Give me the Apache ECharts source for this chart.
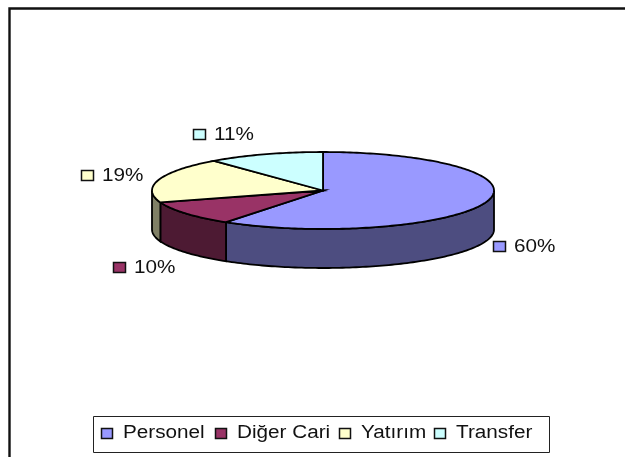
<!DOCTYPE html>
<html>
<head>
<meta charset="utf-8">
<style>
  html, body { margin: 0; padding: 0; background: #fff; }
  #chart { width: 625px; height: 457px; }
</style>
</head>
<body>
<div id="chart"></div>
<script src="https://cdn.jsdelivr.net/npm/echarts@6/dist/echarts.min.js"></script>
<script>
const categories = ['Personel', 'Diğer Cari', 'Yatırım', 'Transfer']
const shares = [59.6, 10.4, 19, 11]

// look of the slices, same order as categories
const topColors = ['#9999FF', '#993366', '#FFFFCC', '#CCFFFF']
const sideColors = ['#4D4D80', '#4D1A33', '#808066', '#668080']
const labelKeys = [[493, 241], [113, 262], [81, 170], [193, 129]]
const legendKeys = [101, 215, 339, 434]
const textStretch = 1.15

const cx = 323, cy = 190.5, rx = 171, ry = 38.5, depth = 39
const total = shares.reduce((a, b) => a + b, 0)

// clockwise angle from 12 o'clock -> point on the ellipse
function pt(a, dy) {
  return [cx + rx * Math.sin(a), cy - ry * Math.cos(a) + (dy || 0)]
}

function arcPoints(a0, a1, dy) {
  const n = Math.max(2, Math.ceil((a1 - a0) / 0.02))
  const out = []
  for (let i = 0; i <= n; i++) out.push(pt(a0 + (a1 - a0) * i / n, dy))
  return out
}

// excel stretches its text, echarts has no letter spacing so scale it
function stretchedText(text, x, y) {
  return {
    type: 'text',
    x,
    y,
    scaleX: textStretch,
    style: {
      x: 0,
      y: 0,
      text,
      fill: '#111',
      font: '18px "Liberation Sans"',
      textVerticalAlign: 'middle'
    }
  }
}

function renderSlice(idx) {
  return function (params, api) {
    const before = shares.slice(0, idx).reduce((a, b) => a + b, 0)
    const a0 = before / total * Math.PI * 2
    const a1 = a0 + api.value(0) / total * Math.PI * 2
    const children = []

    // outer wall, only the part facing the viewer
    const s0 = Math.max(a0, Math.PI / 2)
    const s1 = Math.min(a1, Math.PI * 1.5)
    if (s1 > s0) {
      const upper = arcPoints(s0, s1, 0)
      const lower = arcPoints(s0, s1, depth).reverse()
      children.push({
        type: 'polygon',
        shape: { points: upper.concat(lower) },
        style: { fill: sideColors[idx], stroke: '#000', lineWidth: 1.8 }
      })
    }

    // top face
    children.push({
      type: 'polygon',
      shape: { points: [[cx, cy]].concat(arcPoints(a0, a1, 0)) },
      style: { fill: topColors[idx], stroke: '#000', lineWidth: 1.8 }
    })

    // percent label with its key
    const key = labelKeys[idx]
    children.push({
      type: 'rect',
      shape: { x: key[0] + 0.5, y: key[1] + 0.5, width: 12, height: 10 },
      style: { fill: topColors[idx], stroke: '#111', lineWidth: 1.5 }
    })
    children.push(stretchedText(Math.round(api.value(0) / total * 100) + '%', key[0] + 21, key[1] + 6))
    return { type: 'group', children }
  }
}

const legendItems = []
categories.forEach((name, i) => {
  legendItems.push({
    type: 'rect',
    shape: { x: legendKeys[i] + 0.5, y: 428.5, width: 11, height: 10 },
    style: { fill: topColors[i], stroke: '#111', lineWidth: 1.5 }
  })
  legendItems.push(stretchedText(name, legendKeys[i] + 22, 433))
})

const chart = echarts.init(document.getElementById('chart'), null, { renderer: 'canvas' })

chart.setOption({
  animation: false,
  graphic: [
    {
      type: 'polyline',
      shape: { points: [[9.5, 457], [9.5, 8.5], [625, 8.5]] },
      style: { stroke: '#111', lineWidth: 2.4, fill: null },
      silent: true
    },
    {
      type: 'rect',
      shape: { x: 93.5, y: 416.5, width: 456, height: 36 },
      style: { fill: '#fff', stroke: '#222', lineWidth: 1 },
      silent: true
    },
    { type: 'group', children: legendItems, silent: true }
  ],
  series: categories.map((name, i) => ({
    type: 'custom',
    name,
    coordinateSystem: 'none',
    data: [[shares[i]]],
    itemStyle: { color: topColors[i] },
    renderItem: renderSlice(i),
    silent: true
  }))
})
</script>
</body>
</html>
